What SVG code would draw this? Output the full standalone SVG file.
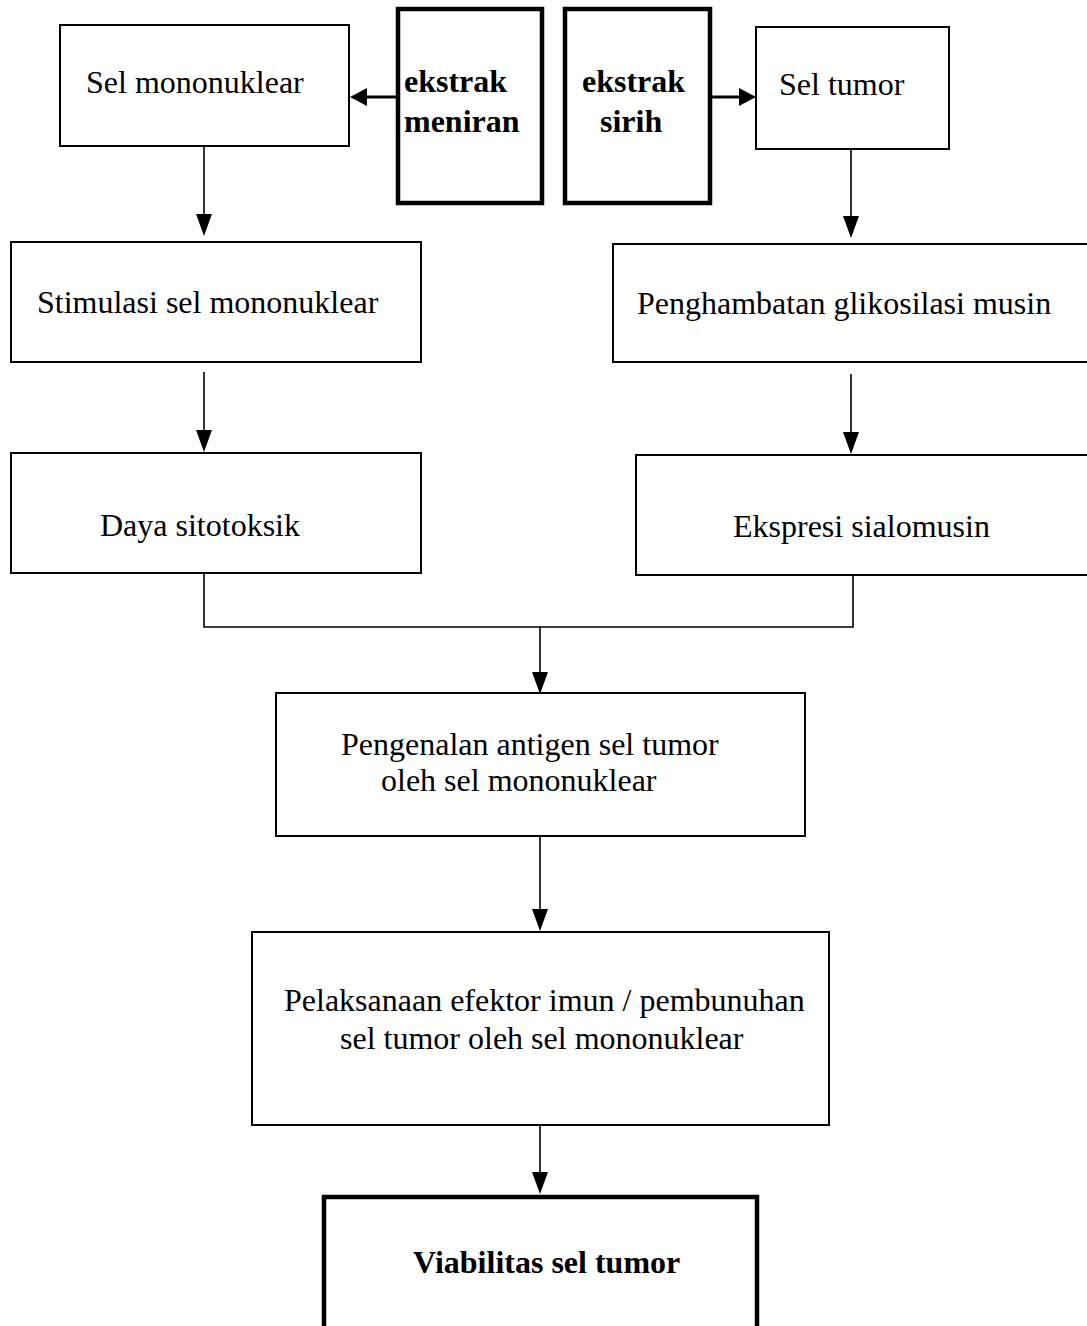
<svg xmlns="http://www.w3.org/2000/svg" width="1087" height="1326" viewBox="0 0 1087 1326">
<style>
  .box { fill: #fff; stroke: #000; stroke-width: 2; }
  .thick { fill: #fff; stroke: #000; stroke-width: 4.5; }
  .t { font-family: "Liberation Serif", "Times New Roman", serif; font-size: 32px; fill: #000; }
  .b { font-family: "Liberation Serif", "Times New Roman", serif; font-size: 32px; font-weight: bold; fill: #000; }
  .c { fill: none; stroke: #000; stroke-width: 1.6; }
  .cb { fill: none; stroke: #000; stroke-width: 3; }
  .ah { fill: #000; stroke: none; }
</style>
<rect x="0" y="0" width="1087" height="1326" fill="#fff"/>

<g id="connectors">
  <!-- meniran to Sel mononuklear -->
  <line class="cb" x1="397" y1="97" x2="364" y2="97"/>
  <polygon class="ah" points="350,97 367,88 367,106"/>
  <!-- sirih to Sel tumor -->
  <line class="cb" x1="711" y1="97" x2="740" y2="97"/>
  <polygon class="ah" points="756,97 739,88 739,106"/>
  <!-- Sel mononuklear down -->
  <line class="c" x1="204" y1="146" x2="204" y2="216"/>
  <polygon class="ah" points="204,236 196,214 212,214"/>
  <!-- Sel tumor down -->
  <line class="c" x1="851" y1="149" x2="851" y2="218"/>
  <polygon class="ah" points="851,238 843,216 859,216"/>
  <!-- Stimulasi down -->
  <line class="c" x1="204" y1="372" x2="204" y2="432"/>
  <polygon class="ah" points="204,452 196,430 212,430"/>
  <!-- Penghambatan down -->
  <line class="c" x1="851" y1="374" x2="851" y2="434"/>
  <polygon class="ah" points="851,454 843,432 859,432"/>
  <!-- merge -->
  <polyline class="c" points="204,573 204,627 853,627 853,575"/>
  <line class="c" x1="540" y1="627" x2="540" y2="674"/>
  <polygon class="ah" points="540,694 532,672 548,672"/>
  <!-- Pengenalan down -->
  <line class="c" x1="540" y1="836" x2="540" y2="911"/>
  <polygon class="ah" points="540,931 532,909 548,909"/>
  <!-- Pelaksanaan down -->
  <line class="c" x1="540" y1="1125" x2="540" y2="1174"/>
  <polygon class="ah" points="540,1194 532,1172 548,1172"/>
</g>

<g id="n-sel-mononuklear">
  <rect class="box" x="60" y="25" width="289" height="121"/>
  <text class="t" x="86" y="93">Sel mononuklear</text>
</g>
<g id="n-ekstrak-meniran">
  <rect class="thick" x="398" y="9" width="144" height="194"/>
  <text class="b" x="404" y="92">ekstrak</text>
  <text class="b" x="404" y="132">meniran</text>
</g>
<g id="n-ekstrak-sirih">
  <rect class="thick" x="565" y="9" width="145" height="194"/>
  <text class="b" x="582" y="92">ekstrak</text>
  <text class="b" x="600" y="132">sirih</text>
</g>
<g id="n-sel-tumor">
  <rect class="box" x="756" y="27" width="193" height="122"/>
  <text class="t" x="779" y="95">Sel tumor</text>
</g>
<g id="n-stimulasi">
  <rect class="box" x="11" y="242" width="410" height="120"/>
  <text class="t" x="37" y="313">Stimulasi sel mononuklear</text>
</g>
<g id="n-penghambatan">
  <rect class="box" x="613" y="244" width="480" height="118"/>
  <text class="t" x="637" y="314">Penghambatan glikosilasi musin</text>
</g>
<g id="n-daya">
  <rect class="box" x="11" y="453" width="410" height="120"/>
  <text class="t" x="100" y="536">Daya sitotoksik</text>
</g>
<g id="n-ekspresi">
  <rect class="box" x="636" y="455" width="457" height="120"/>
  <text class="t" x="733" y="537">Ekspresi sialomusin</text>
</g>
<g id="n-pengenalan">
  <rect class="box" x="276" y="693" width="529" height="143"/>
  <text class="t" x="341" y="755">Pengenalan antigen sel tumor</text>
  <text class="t" x="381" y="791">oleh sel mononuklear</text>
</g>
<g id="n-pelaksanaan">
  <rect class="box" x="252" y="932" width="577" height="193"/>
  <text class="t" x="284" y="1011">Pelaksanaan efektor imun / pembunuhan</text>
  <text class="t" x="340" y="1049">sel tumor oleh sel mononuklear</text>
</g>
<g id="n-viabilitas">
  <rect class="thick" x="324" y="1197" width="433" height="150"/>
  <text class="b" x="413" y="1273">Viabilitas sel tumor</text>
</g>
</svg>
